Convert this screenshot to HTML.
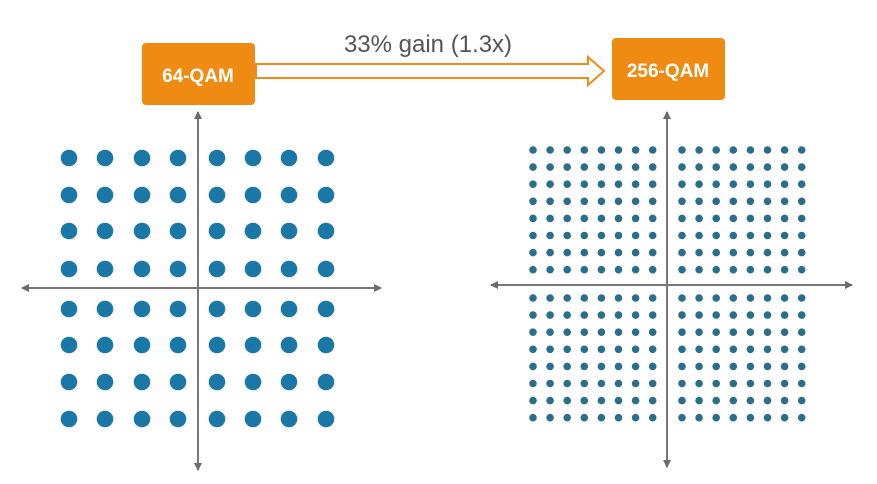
<!DOCTYPE html>
<html><head><meta charset="utf-8"><style>
html,body{margin:0;padding:0;background:#fff;}
svg{display:block;}
</style></head><body>
<svg id="s" width="877" height="484" xmlns="http://www.w3.org/2000/svg">
<defs>
<marker id="ah" markerWidth="8" markerHeight="8" refX="7" refY="4" orient="auto-start-reverse" markerUnits="userSpaceOnUse">
<path d="M0,0 L8,4 L0,8 Z" fill="#6b6b6b"/>
</marker>
</defs>
<rect width="877" height="484" fill="#fff"/>
<!-- axes left -->
<line x1="22" y1="288" x2="381" y2="288" stroke="#777" stroke-width="2" marker-start="url(#ah)" marker-end="url(#ah)"/>
<line x1="198" y1="112" x2="198" y2="470" stroke="#777" stroke-width="2" marker-start="url(#ah)" marker-end="url(#ah)"/>
<!-- axes right -->
<line x1="491" y1="285" x2="852" y2="285" stroke="#777" stroke-width="2" marker-start="url(#ah)" marker-end="url(#ah)"/>
<line x1="667" y1="112" x2="667" y2="467" stroke="#777" stroke-width="2" marker-start="url(#ah)" marker-end="url(#ah)"/>
<g id="dots"></g>
<!-- arrow -->
<path d="M256,64 L588,64 L588,57 L604,71 L588,85 L588,78 L256,78 Z" fill="#fff" stroke="#ef8a1e" stroke-width="2"/>
<text x="428" y="52" font-family="Liberation Sans, sans-serif" font-size="24" fill="#555" text-anchor="middle">33% gain (1.3x)</text>
<!-- boxes -->
<rect x="142" y="43" width="113" height="62" rx="4" fill="#ef8a12"/>
<text x="198" y="82" font-family="Liberation Sans, sans-serif" font-size="19" font-weight="bold" fill="#fff" text-anchor="middle">64-QAM</text>
<rect x="612" y="38" width="113" height="62" rx="4" fill="#ef8a12"/>
<text x="668" y="77" font-family="Liberation Sans, sans-serif" font-size="19" font-weight="bold" fill="#fff" text-anchor="middle">256-QAM</text>
</svg>
<script>
var g=document.getElementById('dots'),ns='http://www.w3.org/2000/svg',h='';
var lx=[69,105,142,178,217,253,289,326],ly=[158,195,231,269,309,345,382,419];
for(var i=0;i<8;i++)for(var j=0;j<8;j++)h+='<circle cx="'+lx[i]+'" cy="'+ly[j]+'" r="8.3" fill="#1a78a6"/>';
var rx=[],ry=[];
for(var k=0;k<8;k++){rx.push(533+17.1*k);ry.push(150+17.1*k);}
for(var k=0;k<8;k++){rx.push(682+17.1*k);ry.push(298+17.1*k);}
for(var i=0;i<16;i++)for(var j=0;j<16;j++)h+='<circle cx="'+rx[i].toFixed(1)+'" cy="'+ry[j].toFixed(1)+'" r="3.8" fill="#2a6f8a"/>';
g.innerHTML=h;
</script>
</body></html>
